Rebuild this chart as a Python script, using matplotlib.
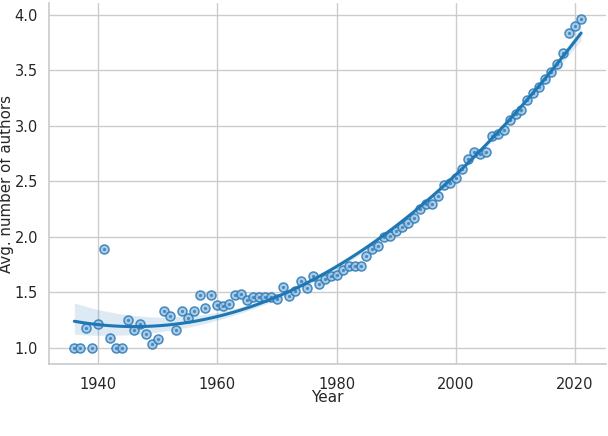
import numpy as np
import matplotlib
matplotlib.use("Agg")
import matplotlib.pyplot as plt
import seaborn as sns

years = list(range(1936, 2022))
avg_authors = [
    1.00, 1.00, 1.18, 1.00, 1.22, 1.89, 1.09, 1.00, 1.00, 1.25,  # 1936-1945
    1.16, 1.22, 1.13, 1.04, 1.08, 1.33, 1.29, 1.16, 1.33, 1.27,  # 1946-1955
    1.33, 1.48, 1.36, 1.48, 1.39, 1.38, 1.40, 1.48, 1.49, 1.43,  # 1956-1965
    1.46, 1.46, 1.46, 1.46, 1.44, 1.55, 1.47, 1.51, 1.60, 1.54,  # 1966-1975
    1.65, 1.58, 1.62, 1.65, 1.66, 1.70, 1.74, 1.74, 1.74, 1.83,  # 1976-1985
    1.89, 1.92, 2.00, 2.01, 2.05, 2.09, 2.13, 2.17, 2.25, 2.30,  # 1986-1995
    2.30, 2.37, 2.47, 2.49, 2.53, 2.61, 2.70, 2.77, 2.75, 2.77,  # 1996-2005
    2.91, 2.93, 2.96, 3.05, 3.11, 3.14, 3.23, 3.30, 3.35, 3.42,  # 2006-2015
    3.49, 3.56, 3.66, 3.84, 3.90, 3.96,                          # 2016-2021
]

sns.set_theme(style="whitegrid")
fig = plt.figure(figsize=(6.08, 4.36), dpi=100)
ax = fig.add_axes([0.0806, 0.1642, 0.9168, 0.8289])

x = np.array(years, dtype=float)
y = np.array(avg_authors)

ax.scatter(x, y, s=42, facecolor="#9cc2e2", edgecolor="#2a7ab8",
           linewidth=1.1, alpha=0.85, zorder=2)
ax.scatter(x, y, s=5, color="#2a7ab8", alpha=0.8, linewidth=0, zorder=2.1)
sns.regplot(x=x, y=y, order=2, scatter=False, ax=ax, color="#1f77b4",
            line_kws={"linewidth": 2.2, "zorder": 3}, seed=0)

ax.set_xlim(1931.75, 2025.25)
ax.set_ylim(0.852, 4.108)
ax.set_xticks([1940, 1960, 1980, 2000, 2020])
ax.set_yticks([1.0, 1.5, 2.0, 2.5, 3.0, 3.5, 4.0])
ax.tick_params(axis="x", labelsize=10.5, pad=3)
ax.tick_params(axis="y", labelsize=10.5, pad=2)
ax.set_xlabel("Year", fontsize=11)
ax.set_ylabel("Avg. number of authors", fontsize=10.8)
ax.xaxis.set_label_coords(0.5, -0.072)
ax.yaxis.set_label_coords(-0.063, 0.5)
sns.despine(ax=ax)
fig.savefig("out.png", dpi=100)
